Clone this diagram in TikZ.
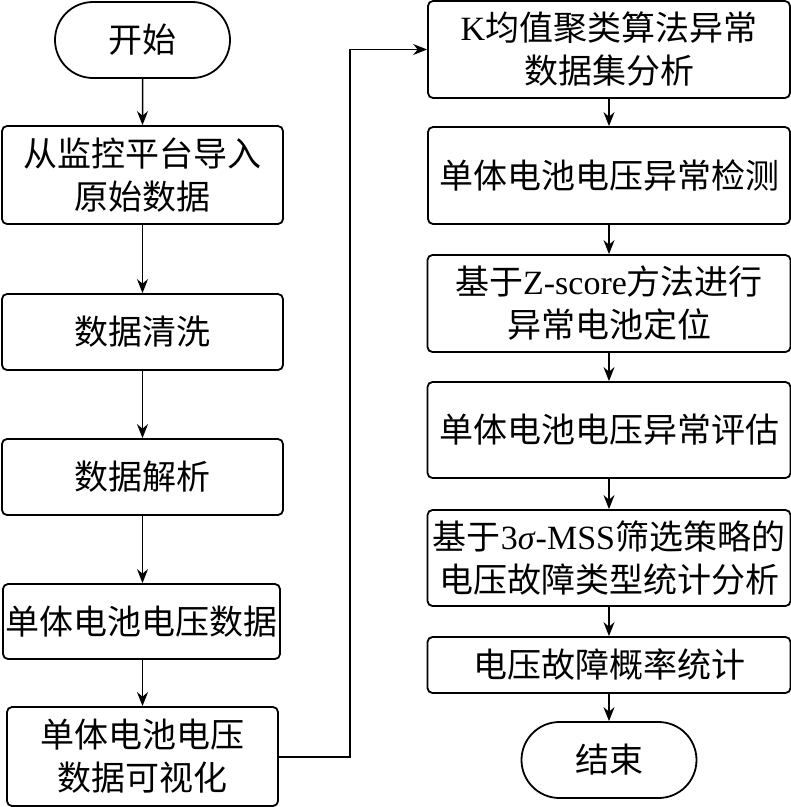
\documentclass[tikz,border=0pt]{standalone}
\usepackage{fontspec}
\setmainfont{Liberation Serif}
\newfontfamily\cjkfont{Noto Sans CJK SC}
\newcommand\lat[1]{{\rmfamily #1}}
\usetikzlibrary{shapes.misc,arrows.meta}
\begin{document}
\begin{tikzpicture}[x=1pt,y=-1pt,
  every node/.style={font=\cjkfont\fontsize{34}{43}\selectfont, align=center, inner sep=0pt},
  box/.style={draw, line width=1.8pt, rounded corners=5pt, rectangle},
  term/.style={draw, line width=1.8pt, rounded rectangle, minimum width=175pt, minimum height=76pt},
  arr/.style={line width=1.5pt, -{Stealth[length=14pt,width=11pt]}}]
\useasboundingbox (0,0) rectangle (791,807);
% left column
\node[term] (start) at (142.5,40) {开始};
\node[box, minimum width=281pt, minimum height=98pt] (b1) at (142.5,175) {从监控平台导入\\原始数据};
\node[box, minimum width=281pt, minimum height=76pt] (b2) at (142.5,332) {数据清洗};
\node[box, minimum width=281pt, minimum height=76pt] (b3) at (142.5,477) {数据解析};
\node[box, minimum width=277pt, minimum height=75pt] (b4) at (141.5,621.5) {单体电池电压数据};
\node[box, minimum width=271pt, minimum height=99pt] (b5) at (142.5,756.5) {单体电池电压\\数据可视化};
% right column
\node[box, minimum width=362pt, minimum height=97pt] (r1) at (609,49.5) {\lat{K}均值聚类算法异常\\数据集分析};
\node[box, minimum width=362pt, minimum height=97pt] (r2) at (609,175.5) {单体电池电压异常检测};
\node[box, minimum width=363pt, minimum height=97pt] (r3) at (609,303.5) {基于\lat{Z-score}方法进行\\异常电池定位};
\node[box, minimum width=363pt, minimum height=96pt] (r4) at (609,430) {单体电池电压异常评估};
\node[box, minimum width=363pt, minimum height=96pt] (r5) at (609,558) {基于\lat{3\textit{σ}-MSS}筛选策略的\\电压故障类型统计分析};
\node[box, minimum width=363pt, minimum height=56pt] (r6) at (609,665) {电压故障概率统计};
\node[term] (end) at (609,760) {结束};
% connectors
\draw[arr] (start) -- (b1);
\draw[arr] (b1) -- (b2);
\draw[arr] (b2) -- (b3);
\draw[arr] (b3.south) -- (b3.south |- b4.north);
\draw[arr] (b5.north |- b4.south) -- (b5.north);
\coordinate (turn) at (350,757);
\draw[arr] (b5.east |- turn) -- (turn) |- (r1.west);
\draw[arr] (r1) -- (r2);
\draw[arr] (r2) -- (r3);
\draw[arr] (r3) -- (r4);
\draw[arr] (r4) -- (r5);
\draw[arr] (r5) -- (r6);
\draw[arr] (r6) -- (end);
\end{tikzpicture}
\end{document}
